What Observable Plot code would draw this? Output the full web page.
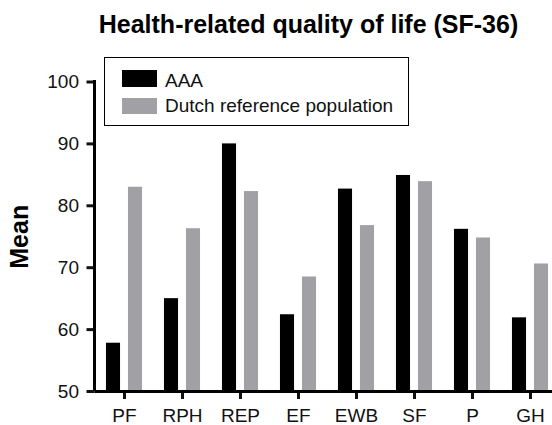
<!DOCTYPE html>
<html>
<head>
<meta charset="utf-8">
<script src="https://cdn.jsdelivr.net/npm/d3@7"></script>
<script src="https://cdn.jsdelivr.net/npm/@observablehq/plot@0.6"></script>
<style>
  html, body { margin: 0; padding: 0; background: #fff; }
  #wrap { position: relative; width: 552px; height: 425px; overflow: hidden; font-family: "Liberation Sans", Arial, sans-serif; }
  #title { position: absolute; left: 0; width: 617px; top: 11.7px; text-align: center; font-size: 25px; line-height: 25px; font-weight: bold; color: #000; white-space: nowrap; }
  #legend { position: absolute; left: 104px; top: 57px; width: 305px; height: 69px; border: 1.5px solid #000; box-sizing: border-box; background: #fff; }
  .sw { position: absolute; left: 122px; width: 35px; }
  .lt { position: absolute; left: 165px; font-size: 19px; line-height: 19px; color: #111; white-space: nowrap; }
  #chart { position: absolute; left: 0; top: 0; }
</style>
</head>
<body>
<div id="wrap">
  <div id="chart"></div>
  <div id="title"></div>
  <div id="legend"></div>
</div>
<script>
const categories = ["PF", "RPH", "REP", "EF", "EWB", "SF", "P", "GH"];
const seriesNames = ["AAA", "Dutch reference population"];
const aaaValues = [57.8, 65.0, 90.0, 62.4, 82.7, 84.9, 76.2, 61.9];
const refValues = [83.0, 76.3, 82.3, 68.5, 76.8, 83.9, 74.8, 70.6];
const yTicks = [50, 60, 70, 80, 90, 100];
const seriesColors = ["#000000", "#a1a1a5"];
const titleText = "Health-related quality of life (SF-36)";
const yLabel = "Mean";

document.getElementById("title").textContent = titleText;

// legend
const legend = document.getElementById("wrap");
const swTops = [70, 98], swHeights = [17, 16], textTops = [70.8, 95.8];
seriesNames.forEach((name, i) => {
  const sw = document.createElement("div");
  sw.className = "sw";
  sw.style.top = swTops[i] + "px";
  sw.style.height = swHeights[i] + "px";
  sw.style.background = seriesColors[i];
  legend.appendChild(sw);
  const t = document.createElement("div");
  t.className = "lt";
  t.style.top = textTops[i] + "px";
  t.textContent = name;
  legend.appendChild(t);
});

const band = (562.46 - 91.04) / categories.length;
const half = band / 2;
const barW = 15, gap = 3.5;

const yAxisLine = (index, scales, values, dimensions) => {
  const g = d3.create("svg:line")
    .attr("x1", dimensions.marginLeft)
    .attr("x2", dimensions.marginLeft)
    .attr("y1", dimensions.marginTop - 1.5)
    .attr("y2", dimensions.height - dimensions.marginBottom)
    .attr("stroke", "#000")
    .attr("stroke-width", 3);
  return g.node();
};

const plot = Plot.plot({
  width: 552,
  height: 425,
  marginLeft: 94.5,
  marginRight: 0,
  marginTop: 81.5,
  marginBottom: 34,
  style: { fontFamily: "Liberation Sans, Arial, sans-serif", fontSize: "19px", background: "transparent", color: "#111", overflow: "visible" },
  x: { type: "band", domain: categories, range: [91.04, 562.46], padding: 0 },
  y: { domain: [50, 100], range: [391, 81.5] },
  marks: [
    Plot.barY(categories, { x: categories, y1: 50, y2: aaaValues, fill: seriesColors[0], insetLeft: half - gap - barW, insetRight: half + gap }),
    Plot.barY(categories, { x: categories, y1: 50, y2: refValues, fill: seriesColors[1], insetLeft: half + gap, insetRight: half - gap - barW }),
    Plot.axisY({ ticks: yTicks, tickSize: 8, tickPadding: 8, strokeWidth: 3, label: null, fontSize: 19, tickFormat: d => String(d) }),
    Plot.axisX({ tickSize: 8, tickPadding: 9, strokeWidth: 3, label: null, fontSize: 19 }),
    Plot.ruleY([50], { stroke: "#000", strokeWidth: 3 }),
    yAxisLine,
    Plot.text([yLabel], { text: d => d, frameAnchor: "left", textAnchor: "middle", rotate: -90, dx: -75, fontWeight: "bold", fontSize: 25, fill: "#000" })
  ]
});
document.getElementById("chart").appendChild(plot);
</script>
</body>
</html>
